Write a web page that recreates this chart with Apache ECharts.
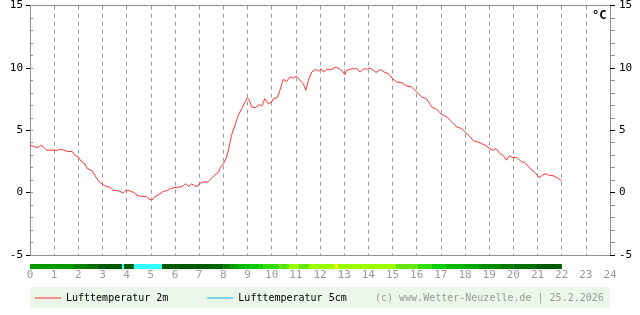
<!DOCTYPE html>
<html><head><meta charset="utf-8">
<script src="https://cdn.jsdelivr.net/npm/echarts@6/dist/echarts.min.js"></script>
<style>html,body{margin:0;padding:0;background:#fff}#c{width:640px;height:315px}</style>
</head><body><div id="c"></div>
<script>
var FONT = 'DejaVu Sans Mono';
var hours2m = [0,0.19,0.33,0.44,0.54,0.68,1.16,1.26,1.34,1.54,1.75,1.85,1.99,2.12,2.26,2.37,2.57,2.68,2.81,2.95,3.09,3.30,3.43,3.71,3.85,3.99,4.12,4.30,4.47,4.81,4.95,5.05,5.16,5.30,5.50,5.71,5.82,5.99,6.29,6.43,6.57,6.68,6.81,6.95,7.02,7.16,7.37,7.50,7.64,7.78,7.86,8.0,8.11,8.21,8.34,8.48,8.62,8.76,8.9,9.0,9.08,9.17,9.31,9.49,9.59,9.72,9.86,10.0,10.07,10.23,10.34,10.48,10.62,10.76,10.9,11.03,11.17,11.31,11.41,11.52,11.66,11.83,11.94,12.05,12.14,12.28,12.48,12.66,12.83,12.94,13.03,13.1,13.31,13.52,13.66,13.82,13.93,14.07,14.32,14.51,14.69,14.83,14.97,15.17,15.38,15.59,15.79,16.0,16.21,16.41,16.62,16.83,17.03,17.24,17.45,17.66,17.86,18.04,18.21,18.37,18.62,18.83,19.03,19.17,19.28,19.45,19.59,19.72,19.83,19.99,20.14,20.34,20.48,20.69,20.9,21.06,21.21,21.34,21.45,21.66,21.86,22.0];
var temp2m = [3.8,3.67,3.6,3.8,3.7,3.4,3.4,3.5,3.4,3.3,3.3,3.0,2.87,2.52,2.33,1.93,1.75,1.4,1.0,0.73,0.55,0.44,0.2,0.12,-0.04,0.2,0.15,0.0,-0.25,-0.33,-0.55,-0.6,-0.33,-0.2,0.07,0.2,0.33,0.41,0.47,0.71,0.5,0.7,0.55,0.5,0.73,0.84,0.87,1.13,1.4,1.6,1.93,2.33,2.73,3.4,4.6,5.4,6.2,6.73,7.27,7.6,7.4,6.87,6.81,7.05,6.95,7.53,7.13,7.27,7.53,7.61,8.2,9.08,8.92,9.27,9.19,9.35,9.0,8.73,8.2,9.0,9.67,9.88,9.72,9.93,9.67,9.88,9.88,10.07,9.88,9.72,9.45,9.8,9.93,9.93,9.67,9.93,9.88,9.99,9.63,9.88,9.63,9.55,9.19,8.87,8.81,8.55,8.47,8.07,7.67,7.53,6.87,6.68,6.28,6.07,5.67,5.27,5.13,4.81,4.47,4.12,4.01,3.8,3.53,3.4,3.53,3.13,2.95,2.6,2.95,2.81,2.81,2.47,2.41,1.93,1.61,1.21,1.4,1.53,1.4,1.35,1.13,0.95];
var temp5cm = [];
var barStart = [0,1.82,2.32,2.81,3.81,3.89,4.30,5.46,7.49,7.99,8.15,8.32,8.48,8.65,8.90,9.14,9.48,9.64,10.30,10.47,10.55,10.72,11.13,11.54,12.62,12.74,15.14,16.05,16.63,17.21,18.0,18.58,19.49,19.99,20.98];
var barEnd   = [1.82,2.32,2.81,3.81,3.89,4.30,5.46,7.49,7.99,8.15,8.32,8.48,8.65,8.90,9.14,9.48,9.64,10.30,10.47,10.55,10.72,11.13,11.54,12.62,12.74,15.14,16.05,16.63,17.21,18.0,18.58,19.49,19.99,20.98,22.01];
var barCode  = ['g9','g8','g7','g5','c','g5','c','g5','g6','g7b','g8b','g9b','ga','gb','gc','gd','ge','l1','l3','l2','l3','l4','l3','l4','y','l4','l3','l1','gd','gb','ga','g8c','g7b','g6b','g5'];
var yTicks = [-5, 0, 5, 10, 15];
var xTicks = [0, 24];
var seriesNames = ['Lufttemperatur 2m', 'Lufttemperatur 5cm'];
var credit = '(c) www.Wetter-Neuzelle.de | 25.2.2026';

var palette = {g9:'#009900',g8:'#008000',g7:'#007000',g5:'#005a00',c:'#33ffff',g6:'#006800',g7b:'#007800',g8b:'#008800',g9b:'#009800',ga:'#00a800',gb:'#00b800',gc:'#00c000',gd:'#00cc00',ge:'#11cc00',l1:'#33dd00',l2:'#44dd00',l3:'#66e600',l4:'#99ff00',y:'#ffff00',g8c:'#008c00',g6b:'#006e00'};
var GRAY = '#909090';

var line2m = hours2m.map(function(h,i){return [h,temp2m[i]];});
var barData = barStart.map(function(s,i){return [s,barEnd[i],barCode[i]];});

var chart = echarts.init(document.getElementById('c'), null, {renderer:'canvas'});
chart.setOption({
  animation:false,
  grid:[{left:30,right:30,top:5,bottom:60},{left:30,right:30,top:264,height:5}],
  xAxis:[
    {type:'value',gridIndex:0,min:xTicks[0],max:xTicks[1],interval:1,position:'bottom',
     axisLine:{show:true,onZero:false,lineStyle:{color:GRAY,width:1}},axisTick:{show:false},
     axisLabel:{color:'#999',fontFamily:FONT,fontSize:11,margin:15},
     splitLine:{show:true,lineStyle:{color:'#999',type:[4,4],width:1}}},
    {type:'value',gridIndex:0,min:xTicks[0],max:xTicks[1],position:'top',
     axisLine:{show:true,onZero:false,lineStyle:{color:GRAY}},axisTick:{show:false},axisLabel:{show:false},splitLine:{show:false}},
    {type:'value',gridIndex:1,min:0,max:24,show:false}
  ],
  yAxis:[
    {type:'value',gridIndex:0,min:yTicks[0],max:yTicks[yTicks.length-1],interval:1,position:'left',
     axisLine:{show:false,onZero:false},axisTick:{show:true,inside:true,length:3,lineStyle:{color:GRAY}},axisLabel:{show:false},splitLine:{show:false}},
    {type:'value',gridIndex:0,min:yTicks[0],max:yTicks[yTicks.length-1],interval:1,position:'right',
     axisLine:{show:false,onZero:false},axisTick:{show:true,inside:false,length:5,lineStyle:{color:GRAY}},axisLabel:{show:false},splitLine:{show:false}},
    {type:'value',gridIndex:0,min:yTicks[0],max:yTicks[yTicks.length-1],interval:5,position:'left',
     axisLine:{show:true,onZero:false,lineStyle:{color:GRAY}},axisTick:{show:true,length:4,lineStyle:{color:'#000'}},
     axisLabel:{color:'#000',fontFamily:FONT,fontSize:11,margin:7},splitLine:{show:false}},
    {type:'value',gridIndex:0,min:yTicks[0],max:yTicks[yTicks.length-1],interval:5,position:'right',
     axisLine:{show:true,onZero:false,lineStyle:{color:GRAY}},axisTick:{show:true,length:5,lineStyle:{color:'#000'}},
     axisLabel:{color:'#000',fontFamily:FONT,fontSize:11,margin:9},splitLine:{show:false}},
    {type:'value',gridIndex:1,min:0,max:1,show:false}
  ],
  legend:{data:seriesNames,left:35,top:293,padding:0,itemGap:39,itemWidth:26,itemHeight:1,icon:'rect',
    textStyle:{color:'#000',fontFamily:FONT,fontSize:10}},
  graphic:[
    {type:'rect',left:30,top:287,shape:{width:580,height:21},style:{fill:'#eaf7ea'},z:-10,silent:true},
    {type:'text',left:375,top:293,style:{text:credit,fill:'#999',font:'10px "DejaVu Sans Mono"'},silent:true},
    {type:'text',left:592,top:10,style:{text:'°C',fill:'#000',font:'bold 12px "DejaVu Sans Mono"'},silent:true}
  ],
  series:[
    {name:seriesNames[0],type:'line',xAxisIndex:0,yAxisIndex:2,data:line2m,showSymbol:false,symbol:'none',
     lineStyle:{color:'#ff3333',width:1},itemStyle:{color:'#ff3333'},z:5},
    {name:seriesNames[1],type:'line',xAxisIndex:0,yAxisIndex:2,data:temp5cm,showSymbol:false,symbol:'none',
     lineStyle:{color:'#11b0e8',width:1},itemStyle:{color:'#11b0e8'}},
    {type:'custom',xAxisIndex:2,yAxisIndex:4,data:barData,clip:false,
     renderItem:function(params,api){
       var s=api.coord([api.value(0),1]);var e=api.coord([api.value(1),0]);
       var code=barData[params.dataIndex][2];
       return {type:'rect',shape:{x:s[0],y:s[1],width:e[0]-s[0],height:e[1]-s[1]},style:{fill:palette[code]}};
     }}
  ]
});
</script></body></html>
